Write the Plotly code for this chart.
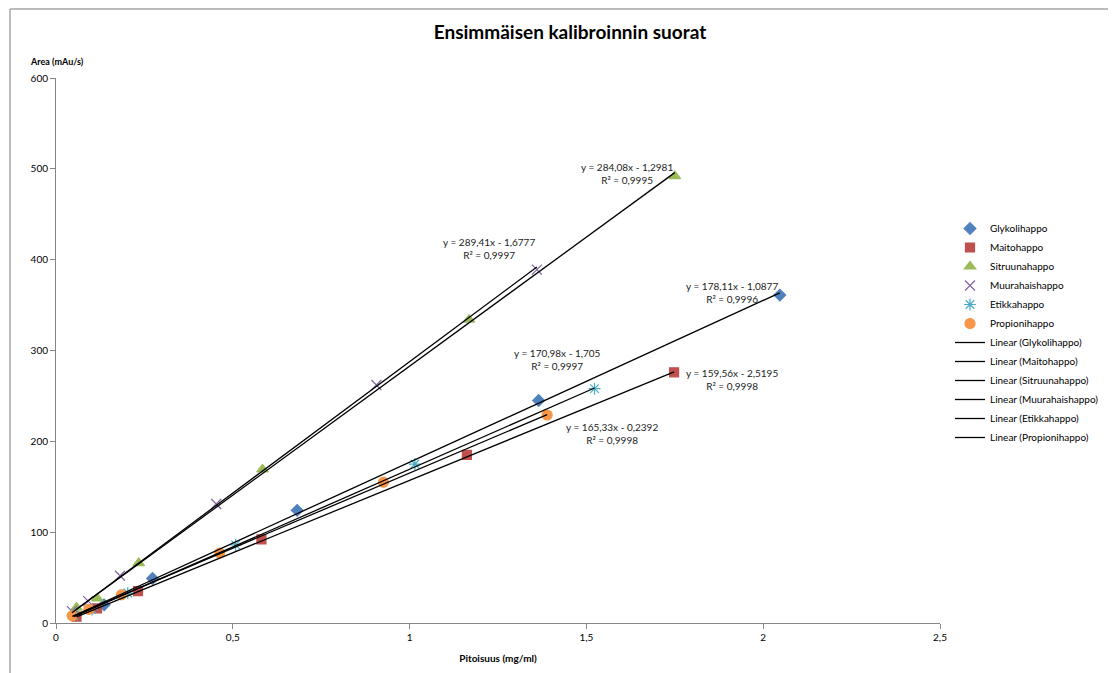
import plotly.graph_objects as go

# ---- data ----
names = ["Glykolihappo", "Maitohappo", "Sitruunahappo", "Muurahaishappo", "Etikkahappo", "Propionihappo"]

glyk_x = [0.054, 0.136, 0.273, 0.682, 1.365, 2.047]
glyk_y = [9, 20, 49, 124, 245, 361]

maito_x = [0.058, 0.116, 0.232, 0.581, 1.162, 1.748]
maito_y = [7, 16, 35, 92, 185, 276]

sitr_x = [0.058, 0.117, 0.234, 0.584, 1.168, 1.750]
sitr_y = [17, 27, 66, 169, 334, 492]

muur_x = [0.045, 0.091, 0.181, 0.453, 0.906, 1.360]
muur_y = [13, 24, 52, 131, 262, 389]

etik_x = [0.051, 0.102, 0.203, 0.508, 1.015, 1.523]
etik_y = [8, 15, 33, 86, 175, 258]

prop_x = [0.046, 0.093, 0.185, 0.463, 0.926, 1.389]
prop_y = [8, 15, 31, 77, 155, 229]

slopes = [178.11, 159.56, 284.08, 289.41, 170.98, 165.33]
intercepts = [-1.0877, -2.5195, -1.2981, -1.6777, -1.705, -0.2392]
r2 = ["0,9996", "0,9998", "0,9995", "0,9997", "0,9997", "0,9998"]
eq_text = ["y = 178,11x - 1,0877", "y = 159,56x - 2,5195", "y = 284,08x - 1,2981",
           "y = 289,41x - 1,6777", "y = 170,98x - 1,705", "y = 165,33x - 0,2392"]
label_x = [1.911, 1.912, 1.614, 1.225, 1.417, 1.572]
label_y = [364, 268, 495, 412, 290, 209]

x_ticks = [0, 0.5, 1, 1.5, 2, 2.5]
x_ticktext = ["0", "0,5", "1", "1,5", "2", "2,5"]
y_ticks = [0, 100, 200, 300, 400, 500, 600]

xs = [glyk_x, maito_x, sitr_x, muur_x, etik_x, prop_x]
ys = [glyk_y, maito_y, sitr_y, muur_y, etik_y, prop_y]

colors = ["#4F81BD", "#C0504D", "#9BBB59", "#8064A2", "#4BACC6", "#F79646"]
symbols = ["diamond", "square", "triangle-up", "x-thin-open", "asterisk-open", "circle"]
sizes = [9, 9, 10, 10, 10, 10]

FONT = "Lato"

# page has an 8px body margin; figure size/margins compensate
W, H = 1108, 665
ML, MR, MT, MB = 48, 176, 70, 50
PW = W - ML - MR
PH = H - MT - MB

fig = go.Figure()

for i in range(6):
    fig.add_trace(go.Scatter(
        x=xs[i], y=ys[i], mode="markers", name=names[i],
        marker=dict(symbol=symbols[i], color=colors[i], size=sizes[i],
                    line=dict(color=colors[i], width=1.2)),
    ))

for i in range(6):
    x0, x1 = min(xs[i]), max(xs[i])
    fig.add_trace(go.Scatter(
        x=[x0, x1], y=[slopes[i] * x0 + intercepts[i], slopes[i] * x1 + intercepts[i]],
        mode="lines", name="Linear (" + names[i] + ")",
        line=dict(color="black", width=1.3),
    ))

for i in range(6):
    fig.add_annotation(x=label_x[i], y=label_y[i], xref="x", yref="y",
                       text=eq_text[i] + "<br>R² = " + r2[i], showarrow=False,
                       font=dict(family=FONT, size=10, color="#222"), align="center")

fig.update_layout(
    width=W, height=H,
    margin=dict(l=ML, r=MR, t=MT, b=MB),
    paper_bgcolor="white", plot_bgcolor="white",
    font=dict(family=FONT, size=10, color="black"),
    title=dict(text="<b>Ensimmäisen kalibroinnin suorat</b>", x=562 / W, xanchor="center",
               xref="container", y=1 - 24 / H, yanchor="middle", yref="container",
               font=dict(family=FONT, size=19, color="black")),
    showlegend=True,
    legend=dict(x=(950 - 56) / PW, xanchor="left", xref="paper",
                y=(623 - 214) / PH, yanchor="top",
                font=dict(family=FONT, size=10, color="black"),
                tracegroupgap=0, bgcolor="rgba(0,0,0,0)"),
    xaxis=dict(range=[0, 2.5], tickvals=x_ticks, ticktext=x_ticktext, automargin=False,
               showgrid=False, zeroline=False, showline=True, linecolor="#868686",
               ticks="outside", ticklen=5, tickcolor="#868686",
               tickfont=dict(family=FONT, size=10),
               title=dict(text="<b>Pitoisuus (mg/ml)</b>", font=dict(family=FONT, size=10), standoff=12)),
    yaxis=dict(range=[0, 600], tickvals=y_ticks, automargin=False,
               showgrid=False, zeroline=False, showline=True, linecolor="#868686",
               ticks="outside", ticklen=5, tickcolor="#868686",
               tickfont=dict(family=FONT, size=10)),
)

fig.add_annotation(x=(28 - 56) / PW, y=(623 - 61) / PH, xref="paper", yref="paper",
                   xanchor="left", yanchor="middle", showarrow=False,
                   text="<b>Area (mAu/s)</b>", font=dict(family=FONT, size=9))

# chart-area border (left and top edges)
bx = (10 - 56) / PW
by = (623 - 9) / PH
fig.add_shape(type="line", xref="paper", yref="paper", x0=bx, x1=bx, y0=by, y1=-1,
              line=dict(color="#A6A6A6", width=1.5))
fig.add_shape(type="line", xref="paper", yref="paper", x0=bx, x1=1.5, y0=by, y1=by,
              line=dict(color="#A6A6A6", width=1.5))

fig.write_html("out.html")
